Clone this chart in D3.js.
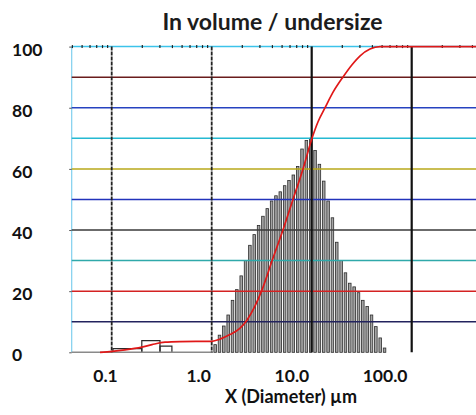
<!DOCTYPE html>
<html>
<head>
<meta charset="utf-8">
<script src="https://cdn.jsdelivr.net/npm/d3@7"></script>
<style>
  html, body { margin: 0; padding: 0; background: #fff; }
  svg { display: block; font-family: Lato, "Open Sans", sans-serif; }
</style>
</head>
<body>
<svg id="chart" width="476" height="415"></svg>
<script>
// Particle size distribution by volume, with the cumulative undersize curve.

// Main histogram: channel edges (µm) and frequency per channel
const binEdges = [1.03, 1.138, 1.258, 1.39, 1.536, 1.698, 1.877, 2.074, 2.292, 2.533,
  2.8, 3.094, 3.42, 3.779, 4.177, 4.616, 5.102, 5.638, 6.231, 6.887,
  7.611, 8.412, 9.297, 10.27, 11.36, 12.55, 13.87, 15.33, 16.94, 18.72,
  20.69, 22.87, 25.27, 27.93, 30.87, 34.12, 37.71, 41.67, 46.06, 50.9, 56.26];
const binValues = [2.5, 5.6, 8.6, 12.2, 17, 20.5, 25, 30, 35, 38.5,
  41.5, 44.5, 47, 49.5, 51.2, 52.5, 54.5, 56.2, 58, 60.8,
  66.5, 69.3, 70, 66, 61.5, 56, 49.5, 44, 36, 30,
  26, 22.6, 21.4, 19.5, 17, 15, 12.2, 8.4, 4.7, 1.4];

// Fine fraction below 1 µm (outlined channels)
const fineEdges = [0.103, 0.2, 0.304, 0.4];
const fineValues = [1.2, 3.8, 2.0];

// Cumulative undersize (%) against diameter (µm)
const cumSize = [0.0764, 0.101, 0.136, 0.2, 0.253, 0.341, 0.48, 1.0, 1.21, 1.52,
  1.91, 2.25, 2.7, 3.19, 4.02, 5.16, 6.5, 8.19, 10.07, 11.6,
  13.6, 16.3, 20.5, 25.2, 30.5, 38.3, 48.2, 440];
const cumValue = [0, 0.3, 0.8, 1.7, 2.5, 3.3, 3.5, 3.6, 4.3, 5.8,
  7.8, 10.5, 15, 20.5, 30, 40, 50, 60, 70, 75.5,
  80, 85, 90, 94, 97, 99.2, 100, 100];

// Axes
const yTicks = [0, 20, 40, 60, 80, 100];
const xTickValues = [0.1, 1, 10, 100];
const xTickLabels = ["0.1", "1.0", "10.0", "100.0"];
const gridLevels = [0, 10, 20, 30, 40, 50, 60, 70, 80, 90, 100];
const gridColors = ["#8a8a8a", "#23235e", "#d42222", "#2fa9aa", "#3a3a3a", "#2233bb",
  "#b9a81a", "#25b9d2", "#2642c0", "#6a1c1c", "#3cc3ea"];

const svg = d3.select("#chart");

const x = d3.scaleLog().domain([0.1, 100]).range([111.7, 411.7]);
const y = d3.scaleLinear().domain([0, 100]).range([352.3, 46.6]);
const xLo = x.invert(71.7), xHi = x.invert(476);
const labelX = d3.scaleLog().domain([0.1, 100]).range([105, 384.6]);

// Title
svg.append("text")
  .attr("x", 272.5).attr("y", 29.5)
  .attr("text-anchor", "middle")
  .attr("font-size", 23).attr("font-weight", 700).attr("fill", "#1c1c1c")
  .text("In volume / undersize");

// Histogram bars
const bars = binValues.map((v, i) => ({ x0: binEdges[i], x1: binEdges[i + 1], v }));
svg.append("g").selectAll("rect").data(bars).join("rect")
  .attr("x", d => x(d.x0) + 0.9)
  .attr("width", d => x(d.x1) - x(d.x0) - 1.8)
  .attr("y", d => y(d.v))
  .attr("height", d => y(0) - y(d.v))
  .attr("fill", "#a4a4a4")
  .attr("stroke", "#2c2c2c")
  .attr("stroke-width", 0.8);

// Fine-fraction channels, outline only
const fine = fineValues.map((v, i) => ({ x0: fineEdges[i], x1: fineEdges[i + 1], v }));
svg.append("g").selectAll("path").data(fine).join("path")
  .attr("d", d => `M${x(d.x0)},${y(0)}V${y(d.v)}H${x(d.x1)}V${y(0)}`)
  .attr("fill", "none")
  .attr("stroke", "#2a2a2a")
  .attr("stroke-width", 1.2);

// Left frame
svg.append("line")
  .attr("x1", x(xLo)).attr("x2", x(xLo))
  .attr("y1", y(100)).attr("y2", y(0))
  .attr("stroke", "#7fcfee").attr("stroke-width", 1.2);

// Horizontal grid
svg.append("g").selectAll("line").data(gridLevels).join("line")
  .attr("x1", x(xLo))
  .attr("x2", d => d === 0 ? x(binEdges[0]) : x(xHi))
  .attr("y1", d => y(d)).attr("y2", d => y(d))
  .attr("stroke", (d, i) => gridColors[i])
  .attr("stroke-width", 1.5);

// Vertical decade lines
svg.append("g").selectAll("line").data(xTickValues).join("line")
  .attr("x1", d => x(d)).attr("x2", d => x(d))
  .attr("y1", y(100)).attr("y2", y(0))
  .attr("stroke", d => d < 5 ? "#222" : "#111")
  .attr("stroke-width", d => d < 5 ? 1.8 : 2.2)
  .attr("stroke-dasharray", d => d < 5 ? "4,1" : null);

// Minor log ticks along the top edge
const minor = x.copy().domain([xLo, xHi]).ticks()
  .filter(v => v > xLo && v < xHi && Math.abs(Math.log10(v) - Math.round(Math.log10(v))) > 1e-6);
svg.append("g")
  .attr("transform", `translate(0,${y(100) + 1.5})`)
  .call(d3.axisTop(x).tickValues(minor).tickSize(3).tickFormat(""))
  .call(g => g.select(".domain").remove())
  .selectAll("line").attr("stroke", "#222").attr("stroke-width", 1.2);

// Cumulative curve
const cum = cumSize.map((s, i) => ({ s, v: cumValue[i] }));
svg.append("path")
  .datum(cum)
  .attr("d", d3.line().x(d => x(d.s)).y(d => y(d.v)).curve(d3.curveMonotoneX))
  .attr("fill", "none")
  .attr("stroke", "#e01818")
  .attr("stroke-width", 1.7);

// Y axis: small ticks on the frame, labels at the far left
const yAxis = svg.append("g")
  .attr("transform", `translate(${x(xLo)},0)`)
  .call(d3.axisLeft(y).tickValues(yTicks).tickSize(2.5).tickPadding(0));
yAxis.select(".domain").remove();
yAxis.selectAll("line").attr("stroke", "#555");
yAxis.selectAll("text")
  .attr("text-anchor", "start")
  .attr("x", 12 - x(xLo))
  .attr("dy", 8.5)
  .attr("font-family", "Lato, sans-serif")
  .attr("font-size", 17.5).attr("font-weight", 700).attr("fill", "#111");

// X axis labels
const xAxis = svg.append("g")
  .attr("transform", "translate(0,381.5)")
  .call(d3.axisBottom(labelX).tickValues(xTickValues).tickSize(0).tickPadding(0)
    .tickFormat((d, i) => xTickLabels[i]));
xAxis.select(".domain").remove();
xAxis.selectAll("text")
  .attr("dy", 0)
  .attr("font-family", "Lato, sans-serif")
  .attr("font-size", 17.5).attr("font-weight", 700).attr("fill", "#111");

// X axis title
svg.append("text")
  .attr("x", 291).attr("y", 403)
  .attr("text-anchor", "middle")
  .attr("font-size", 18).attr("font-weight", 700).attr("fill", "#111")
  .text("X (Diameter) µm");
</script>
</body>
</html>
